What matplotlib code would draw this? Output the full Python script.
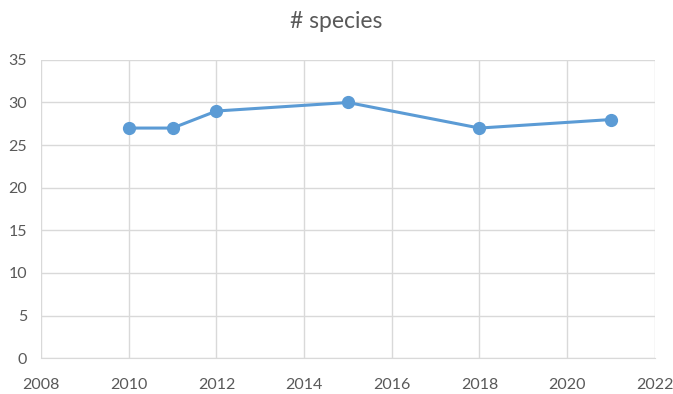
import matplotlib
matplotlib.use("Agg")
import matplotlib.pyplot as plt

years = [2010, 2011, 2012, 2015, 2018, 2021]
species = [27, 27, 29, 30, 27, 28]
x_ticks = [2008, 2010, 2012, 2014, 2016, 2018, 2020, 2022]
y_ticks = [0, 5, 10, 15, 20, 25, 30, 35]
title = "# species"

plt.rcParams['font.family'] = ['Lato', 'DejaVu Sans']
fig = plt.figure(figsize=(6.73, 3.94), dpi=100)
ax = fig.add_axes([0.061, 0.091, 0.912, 0.757])
ax.plot(years, species, color='#5B9BD5', lw=2.2, marker='o', ms=8.5, zorder=3)
ax.set_xlim(2008, 2022)
ax.set_ylim(0, 35)
ax.set_xticks(x_ticks)
ax.set_yticks(y_ticks)
ax.grid(True, color='#D9D9D9', lw=1)
ax.set_axisbelow(True)
for s in ['top', 'right', 'left']:
    ax.spines[s].set_visible(False)
ax.spines['bottom'].set_color('#D9D9D9')
ax.tick_params(length=0, labelsize=11.5, labelcolor='#595959')
ax.tick_params(axis='x', pad=14)
ax.tick_params(axis='y', pad=10)
fig.text(0.5, 0.945, title, ha='center', va='center', fontsize=16.5, color='#595959')
fig.savefig('out.png', dpi=100)
